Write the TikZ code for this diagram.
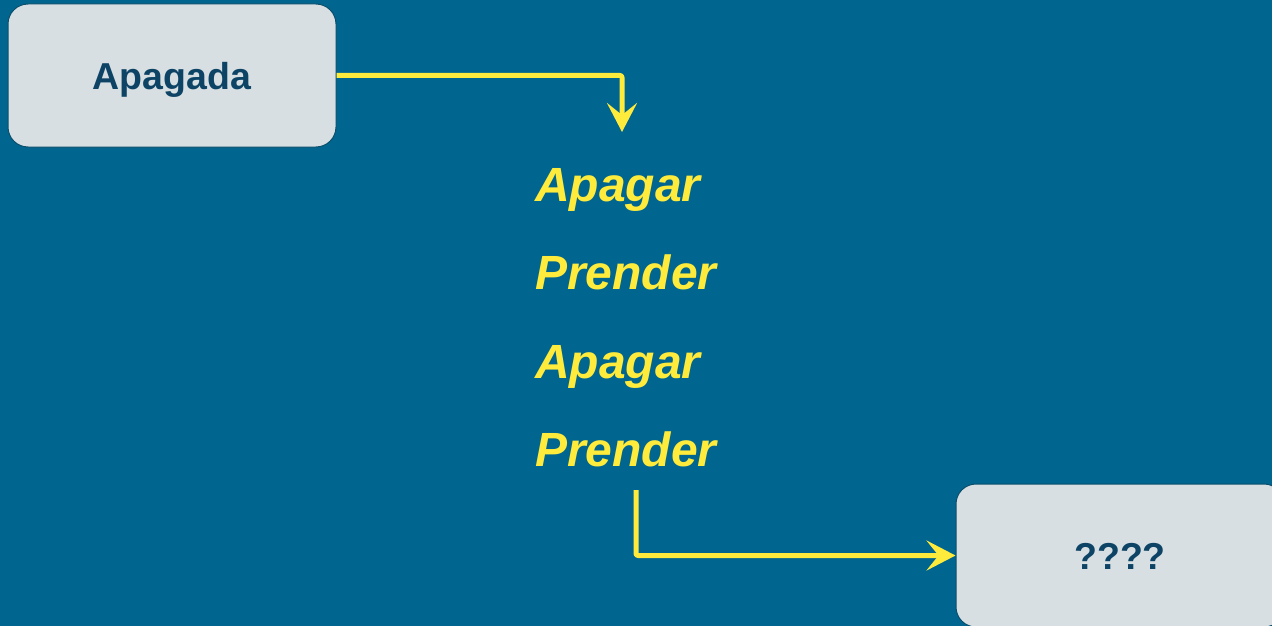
\documentclass[tikz,border=0pt]{standalone}
\usepackage{fontspec}
\setmainfont{Liberation Sans}
\usepackage{tikz}
\usetikzlibrary{arrows.meta}
\definecolor{bgblue}{RGB}{0,101,143}
\definecolor{boxgray}{RGB}{215,223,227}
\definecolor{boxline}{RGB}{10,78,108}
\definecolor{boxtext}{RGB}{13,68,102}
\definecolor{flowyellow}{RGB}{255,235,59}
\newcommand{\statebox}[4]{\node[statenode] (#1) at ( #2 , #3 ) {#4};}
\newcommand{\steplabel}[4]{\node[actionlabel] (#1) at ( #2 , #3 ) {#4};}
\tikzset{
  statenode/.style={draw=boxline, line width=1pt, fill=boxgray, rounded corners=20pt,
    minimum width=328pt, minimum height=143pt, text=boxtext, text height=28pt, text depth=0pt,
    font=\fontsize{37.5}{40}\selectfont\bfseries},
  actionlabel/.style={anchor=base west, inner sep=0pt, text=flowyellow,
    font=\fontsize{48}{52}\selectfont\bfseries\itshape},
  flow/.style={draw=flowyellow, line width=5pt, line join=round, rounded corners=2pt,
    -{Stealth[length=29pt, width=30pt, inset=12pt]}}
}
\begin{document}
\begin{tikzpicture}[x=1pt, y=-1pt]
        \useasboundingbox (0,0) rectangle (1272,626);
        \clip (0,0) rectangle (1272,626);
        \fill[bgblue] (0,0) rectangle (1272,626);

        % states
        \statebox{off}{172}{75.5}{Apagada}
        \statebox{unknown}{1120}{555.5}{????}

        % actions
        \steplabel{act1}{535}{201}{Apagar}
        \steplabel{act2}{535}{289}{Prender}
        \steplabel{act3}{535}{378}{Apagar}
        \steplabel{act4}{535}{466}{Prender}

        \coordinate (in1) at (622,132);
        \coordinate (out4) at (636,490);

        % arrows
        \draw[flow] (off.east) -| (in1);
        \draw[flow] (out4) |- (unknown.west);
    \end{tikzpicture}
\end{document}
